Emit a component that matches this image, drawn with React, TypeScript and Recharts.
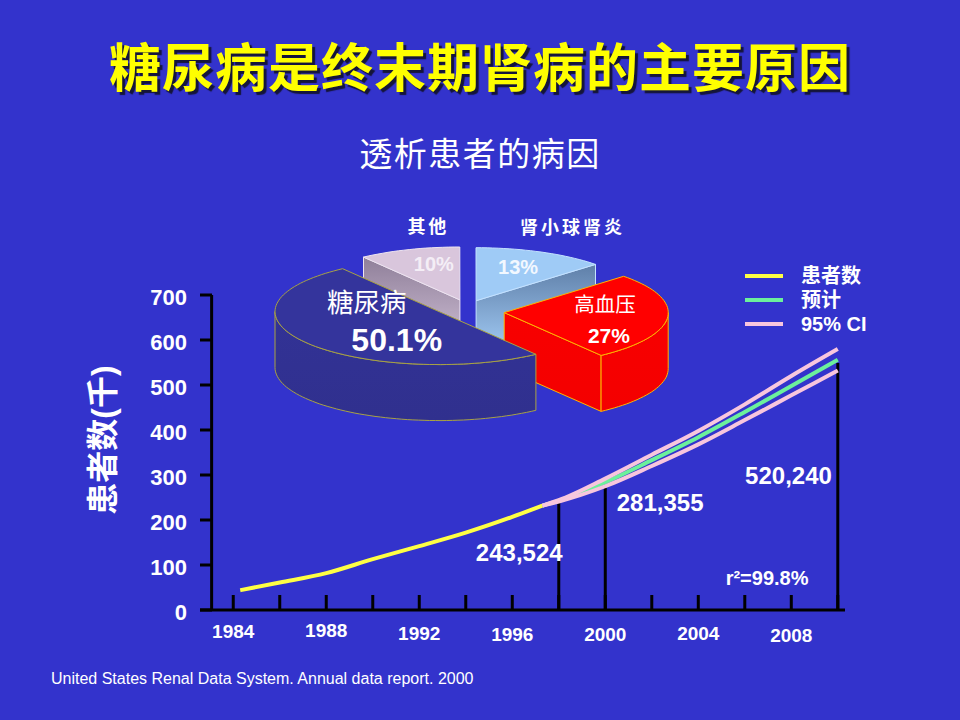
import {
  LineChart,
  Line,
  XAxis,
  YAxis,
  ReferenceLine,
  ReferenceDot,
  Legend,
  PieChart,
  Pie,
} from "recharts";

const FONT = "'Liberation Sans', 'Noto Sans CJK SC', Arial, sans-serif";
const BG = "#3333cc";

// 患者数（千）— observed
const observedYears = [1984.3, 1986, 1988, 1990, 1992, 1994, 1996, 1997.3];
const observedPatients = [44, 61, 82, 113, 142, 172, 207, 232];

// projection + 95% CI
const projectionYears = [1997.3, 1998, 2000, 2002, 2004, 2006, 2008, 2010];
const projectedPatients = [232, 243, 284, 333, 384, 440, 498, 556];
const ciUpper = [232, 244, 292, 345, 398, 457, 520, 580];
const ciLower = [232, 241, 275, 320, 368, 422, 477, 532];

const yearTicks = [1984, 1986, 1988, 1990, 1992, 1994, 1996, 1998, 2000, 2002, 2004, 2006, 2008, 2010];
const yearLabels = [1984, 1988, 1992, 1996, 2000, 2004, 2008];
const patientTicks = [0, 100, 200, 300, 400, 500, 600, 700];

const markerYears = [1998, 2000, 2010];
const markerTops = [240, 271, 549];

const calloutTexts = ["243,524", "281,355", "520,240", "r²=99.8%"];

const pieCauses = ["其他", "肾小球肾炎", "高血压", "糖尿病"];
const pieShares = [10, 13, 27, 50.1];

const legendLabels = ["患者数", "预计", "95% CI"];

// ---- layout / style (not data) ----
const labelJitter = [0, -1, 2, 3, 3, 2, 4];
const calloutAnchors = [
  { x: 1996.3, y: 127, size: 24 },
  { x: 2002.36, y: 238, size: 24 },
  { x: 2007.88, y: 298, size: 24 },
  { x: 2006.96, y: 72, size: 20 },
];
const legendColors = ["#ffff44", "#6cf09c", "#f8c6de"];

const TILT = 0.323;
const DEPTH = 56;
const RAD = Math.PI / 180;

const sliceLooks = [
  {
    top: "#d9c6dc", side: ["#8f7f99", "#d6c6dc"], edge: "#eee4f0", explode: 23, lift: 1,
    name: { dx: -33, dy: -73, size: 18, weight: "bold", spacing: 3 },
    pct: { dx: -26, dy: -35.5, size: 20, color: "#f4eef6" },
  },
  {
    top: "#9fcbf6", side: ["#5f7fa8", "#a6d0fa"], edge: "#c4e2ff", explode: 23, lift: 1.5,
    name: { dx: 95, dy: -73, size: 18, weight: "bold", spacing: 3 },
    pct: { dx: 42, dy: -33.5, size: 20, color: "#f2f8ff" },
  },
  {
    top: "#ff0000", side: ["#f80000", "#f40000"], edge: "#ffb400", explode: 37.4, lift: 5.5,
    name: { dx: 100.7, dy: -7.7, size: 20.5, weight: "normal", spacing: 0 },
    pct: { dx: 104.7, dy: 22.8, size: 21, color: "#ffffff" },
  },
  {
    top: "#34349c", side: ["#323296", "#30308e"], edge: "#a8a244", explode: 34.6, lift: -1,
    name: { dx: -72.3, dy: -9, size: 26.5, weight: "normal", spacing: 0 },
    pct: { dx: -42.3, dy: 28.2, size: 32, color: "#ffffff" },
  },
];

const observedData = observedYears.map((year, i) => ({ year, value: observedPatients[i] }));
const projectionData = projectionYears.map((year, i) => ({
  year,
  projected: projectedPatients[i],
  upper: ciUpper[i],
  lower: ciLower[i],
}));
const pieData = pieCauses.map((name, i) => ({ name, value: pieShares[i] }));

function YearTick(props: any) {
  const { x, y, payload } = props;
  const idx = yearLabels.indexOf(payload.value);
  return (
    <g>
      <line x1={x} x2={x} y1={y} y2={y - 15} stroke="#000" strokeWidth={3} />
      {idx >= 0 && (
        <text
          x={x}
          y={y + 21 + labelJitter[idx]}
          textAnchor="middle"
          dominantBaseline="central"
          fill="#fff"
          fontSize={19}
          fontWeight="bold"
          fontFamily={FONT}
        >
          {payload.value}
        </text>
      )}
    </g>
  );
}

function PatientTick(props: any) {
  const { x, y, payload } = props;
  return (
    <g>
      <line x1={x} x2={x + 12} y1={y} y2={y} stroke="#000" strokeWidth={3} />
      <text
        x={x - 13}
        y={y + 2}
        textAnchor="end"
        dominantBaseline="central"
        fill="#fff"
        fontSize={22}
        fontWeight="bold"
        fontFamily={FONT}
      >
        {payload.value}
      </text>
    </g>
  );
}

function LegendBox() {
  return (
    <div style={{ fontFamily: FONT, fontSize: 20, fontWeight: "bold", color: "#fff" }}>
      {legendLabels.map((label, i) => (
        <div key={label} style={{ display: "flex", alignItems: "center", height: 24 }}>
          <span style={{ display: "inline-block", width: 38, height: 4, background: legendColors[i], marginRight: 18 }} />
          <span style={{ lineHeight: "24px" }}>{label}</span>
        </div>
      ))}
    </div>
  );
}

// draws one exploded, tilted 3D slice from the sector Recharts computed
function PieSlice3D(props: any) {
  const { cx, cy, outerRadius, startAngle, endAngle, index, value } = props;
  const look = sliceLooks[index];
  const a = outerRadius;
  const b = outerRadius * TILT;
  const mid = ((startAngle + endAngle) / 2) * RAD;
  const ax = cx + look.explode * Math.cos(mid);
  const ay = cy - look.explode * TILT * Math.sin(mid) + look.lift;
  const lo = Math.min(startAngle, endAngle);
  const hi = Math.max(startAngle, endAngle);

  const at = (deg: number, drop = 0) => [ax + a * Math.cos(deg * RAD), ay - b * Math.sin(deg * RAD) + drop];
  const arc = (from: number, to: number, drop = 0) => {
    const n = Math.max(2, Math.ceil(Math.abs(to - from) / 2));
    return Array.from({ length: n + 1 }, (_, i) => at(from + ((to - from) * i) / n, drop));
  };
  const path = (pts: number[][]) => "M" + pts.map((p) => `${p[0].toFixed(1)},${p[1].toFixed(1)}`).join("L") + "Z";

  const apex = [ax, ay];
  const apexLow = [ax, ay + DEPTH];
  const faces: string[] = [];
  if (Math.cos(lo * RAD) > 0.01) faces.push(path([apex, at(lo), at(lo, DEPTH), apexLow]));
  if (Math.cos(hi * RAD) < -0.01) faces.push(path([apex, at(hi), at(hi, DEPTH), apexLow]));
  for (let n = Math.floor(lo / 360) - 1; n <= Math.ceil(hi / 360) + 1; n++) {
    const s = Math.max(lo, 360 * n - 180);
    const e = Math.min(hi, 360 * n);
    if (e - s > 0.01) faces.push(path([...arc(s, e), ...arc(e, s, DEPTH)]));
  }
  const top = path([apex, ...arc(lo, hi)]);
  const gid = `slice-side-${index}`;

  return (
    <g>
      <defs>
        <linearGradient id={gid} x1="0" y1="0" x2="0" y2="1">
          <stop offset="0" stopColor={look.side[0]} />
          <stop offset="1" stopColor={look.side[1]} />
        </linearGradient>
      </defs>
      {faces.map((d, i) => (
        <path key={i} d={d} fill={`url(#${gid})`} stroke={look.edge} strokeWidth={1} strokeLinejoin="round" />
      ))}
      <path d={top} fill={look.top} stroke={look.edge} strokeWidth={1} strokeLinejoin="round" />
      <text
        x={ax + look.name.dx + look.name.spacing / 2}
        y={ay + look.name.dy}
        textAnchor="middle"
        dominantBaseline="central"
        fill="#fff"
        fontSize={look.name.size}
        fontWeight={look.name.weight}
        letterSpacing={look.name.spacing}
        fontFamily={FONT}
      >
        {pieCauses[index]}
      </text>
      <text
        x={ax + look.pct.dx}
        y={ay + look.pct.dy}
        textAnchor="middle"
        dominantBaseline="central"
        fill={look.pct.color}
        fontSize={look.pct.size}
        fontWeight="bold"
        fontFamily={FONT}
      >
        {`${value}%`}
      </text>
    </g>
  );
}

export default function App() {
  return (
    <div
      style={{
        position: "absolute",
        left: 0,
        top: 0,
        width: 960,
        height: 720,
        background: BG,
        overflow: "hidden",
        fontFamily: FONT,
      }}
    >
      <div
        style={{
          position: "absolute",
          left: 0,
          top: 39,
          width: 960,
          textAlign: "center",
          fontSize: 52,
          lineHeight: "52px",
          letterSpacing: 1,
          fontWeight: "bold",
          color: "#ffff00",
          textShadow: "3px 3px 1px #15153a",
          fontFamily: "'Noto Sans CJK SC', sans-serif",
        }}
      >
        糖尿病是终末期肾病的主要原因
      </div>
      <div
        style={{
          position: "absolute",
          left: 0,
          top: 136,
          width: 960,
          textAlign: "center",
          fontSize: 33,
          lineHeight: "33px",
          letterSpacing: 1.5,
          color: "#fff",
          fontFamily: "'Noto Sans CJK SC', sans-serif",
        }}
      >
        透析患者的病因
      </div>

      <LineChart width={960} height={720} margin={{ top: 295, right: 115, bottom: 80, left: 140 }}>
        <XAxis
          dataKey="year"
          type="number"
          domain={[1982.57, 2010.31]}
          ticks={yearTicks}
          interval={0}
          height={30}
          tickSize={0}
          tickMargin={0}
          tickLine={false}
          axisLine={{ stroke: "#000", strokeWidth: 3 }}
          tick={<YearTick />}
          allowDataOverflow
        />
        <YAxis
          type="number"
          domain={[0, 700]}
          ticks={patientTicks}
          interval={0}
          width={60}
          tickSize={0}
          tickMargin={0}
          tickLine={false}
          axisLine={false}
          tick={<PatientTick />}
        />
        <ReferenceLine x={1983.07} stroke="#000" strokeWidth={3} />
        {markerYears.map((year, i) => (
          <ReferenceLine
            key={year}
            segment={[
              { x: year, y: 0 },
              { x: year, y: markerTops[i] },
            ]}
            stroke="#000"
            strokeWidth={3}
          />
        ))}
        <Line
          data={observedData}
          dataKey="value"
          type="monotone"
          stroke={legendColors[0]}
          strokeWidth={4}
          dot={false}
          isAnimationActive={false}
        />
        <Line
          data={projectionData}
          dataKey="projected"
          type="monotone"
          stroke={legendColors[1]}
          strokeWidth={4}
          dot={false}
          isAnimationActive={false}
        />
        <Line
          data={projectionData}
          dataKey="upper"
          type="monotone"
          stroke={legendColors[2]}
          strokeWidth={4}
          dot={false}
          isAnimationActive={false}
        />
        <Line
          data={projectionData}
          dataKey="lower"
          type="monotone"
          stroke={legendColors[2]}
          strokeWidth={4}
          dot={false}
          isAnimationActive={false}
        />
        {calloutTexts.map((text, i) => (
          <ReferenceDot
            key={text}
            x={calloutAnchors[i].x}
            y={calloutAnchors[i].y}
            r={0}
            fill="none"
            stroke="none"
            label={{
              value: text,
              position: "center",
              fill: "#fff",
              fontSize: calloutAnchors[i].size,
              fontWeight: "bold",
              fontFamily: FONT,
            }}
          />
        ))}
        <Legend
          layout="vertical"
          align="center"
          verticalAlign="middle"
          wrapperStyle={{ left: 745, top: 264, width: 170 }}
          content={() => <LegendBox />}
        />
      </LineChart>

      <div style={{ position: "absolute", left: 0, top: 0, pointerEvents: "none" }}>
        <PieChart width={960} height={720} margin={{ top: 0, right: 0, bottom: 0, left: 0 }}>
          <Pie
            data={pieData}
            dataKey="value"
            nameKey="name"
            cx={467}
            cy={306}
            outerRadius={164}
            startAngle={126}
            endAngle={-234}
            fill="transparent"
            stroke="none"
            label={PieSlice3D}
            labelLine={false}
            isAnimationActive={false}
          />
        </PieChart>
      </div>

      <div
        style={{
          position: "absolute",
          left: 3,
          top: 422,
          width: 200,
          height: 36,
          lineHeight: "36px",
          textAlign: "center",
          transform: "rotate(-90deg)",
          fontSize: 32,
          fontWeight: "bold",
          color: "#fff",
        }}
      >
        患者数(千)
      </div>
      <div
        style={{
          position: "absolute",
          left: 51,
          top: 670,
          fontSize: 16,
          lineHeight: "18px",
          color: "#fff",
          whiteSpace: "nowrap",
        }}
      >
        United States Renal Data System. Annual data report. 2000
      </div>
    </div>
  );
}
